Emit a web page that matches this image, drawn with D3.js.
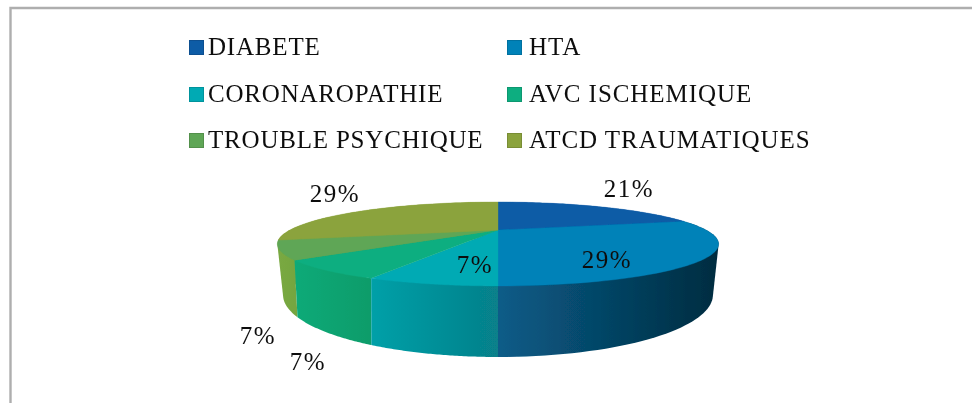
<!DOCTYPE html>
<html><head><meta charset="utf-8">
<script src="https://cdn.jsdelivr.net/npm/d3@7"></script>
<style>html,body{margin:0;padding:0;background:#fff}svg{display:block}text{font-family:"Liberation Serif",serif;fill:#111}</style>
</head><body><svg id="c" width="972" height="403"></svg>
<script>
const categories=["DIABETE","HTA","CORONAROPATHIE","AVC ISCHEMIQUE","TROUBLE PSYCHIQUE","ATCD TRAUMATIQUES"];
const values=[21,29,7,7,7,29];
const labels=["21%","29%","7%","7%","7%","29%"];
const colors=["#0c5ba6","#0082b8","#05aab4","#0cae80","#5fa656","#8ba33c"];
const sideStart=["#0c5ba6","#0a5c88","#00a0a8","#10aa78","#7aa942","#8ba33c"];
const sideEnd=["#0c5ba6","#002c40","#07808a","#0c9c6a","#74a540","#8ba33c"];
const W=972,H=403;
const svg=d3.select("#c");
const defs=svg.append("defs");
defs.append("filter").attr("id","soft").attr("x","-5%").attr("y","-5%").attr("width","110%").attr("height","110%")
  .append("feGaussianBlur").attr("stdDeviation",0.55);
svg.append("rect").attr("width",W).attr("height",H).attr("fill","#fff");
svg.append("path").attr("d","M10.5,403V8H972").attr("fill","none").attr("stroke","#aeaeae").attr("stroke-width",2.4);

// perspective projection of the disc
const topE={cx:498,y0:230,rx:208,ry:37.3,k:1/3};
const botE={cx:498,y0:272.6,rx:200.5,ry:54,k:0.36};
const proj=(e,a)=>{const u=Math.sin(a),v=-Math.cos(a),d=1-e.k*v;return [e.cx+e.rx*u/d,e.y0+e.ry*v/d];};
const arcs=d3.pie().sort(null).value(d=>d)(values);
const pts=(e,a0,a1)=>d3.range(0,61).map(i=>proj(e,a0+(a1-a0)*i/60));
const line=d3.line();
const g=svg.append("g").attr("filter","url(#soft)");

// sides, back to front
const order=arcs.map((d,i)=>i).sort((a,b)=>{
  const m=i=>-Math.cos((arcs[i].startAngle+arcs[i].endAngle)/2);return m(a)-m(b);});
order.forEach(i=>{
  const a=arcs[i];
  const id="side"+i;
  const lg=defs.append("linearGradient").attr("id",id).attr("x1",0).attr("x2",1).attr("y1",0).attr("y2",0);
  lg.append("stop").attr("offset",0).attr("stop-color",sideStart[i]);
  lg.append("stop").attr("offset",1).attr("stop-color",sideEnd[i]);
  const p=d3.polygonHull(pts(topE,a.startAngle,a.endAngle).concat(pts(botE,a.startAngle,a.endAngle)));
  g.append("path").attr("d",line(p)+"Z").attr("fill",`url(#${id})`);
});
// top face
arcs.forEach((a,i)=>{
  const p=[[topE.cx,topE.y0]].concat(pts(topE,a.startAngle,a.endAngle));
  g.append("path").attr("d",line(p)+"Z").attr("fill",colors[i]).attr("stroke",colors[i]).attr("stroke-width",0.4);
});

// data labels
const labelPos=[[629,197],[607,268],[475,273],[308,370],[258,344],[335,202]];
const tg=svg.append("g").attr("filter","url(#soft)");
tg.selectAll("text.l").data(labels).join("text").attr("class","l")
  .attr("text-anchor","middle").attr("font-size",25).attr("letter-spacing",1.6)
  .attr("x",(d,i)=>labelPos[i][0]).attr("y",(d,i)=>labelPos[i][1]).text(d=>d);

// legend
const col=d3.scaleOrdinal().domain([0,1]).range([189,507]);
const row=d3.scaleOrdinal().domain([0,1,2]).range([55,102,148]);
const leg=svg.append("g").attr("filter","url(#soft)").selectAll("g").data(categories).join("g")
  .attr("transform",(d,i)=>`translate(${col(i%2)},${row(Math.floor(i/2))})`);
leg.append("rect").attr("x",0.5).attr("y",-14.5).attr("width",14).attr("height",14)
  .attr("fill",(d,i)=>colors[i]).attr("stroke",(d,i)=>d3.color(colors[i]).darker(0.4)).attr("stroke-width",1);
leg.append("text").attr("x",(d,i)=>i%2?22:19).attr("y",0).attr("font-size",25).attr("letter-spacing",(d,i)=>i%2?0.95:0.8).text(d=>d);
</script></body></html>
